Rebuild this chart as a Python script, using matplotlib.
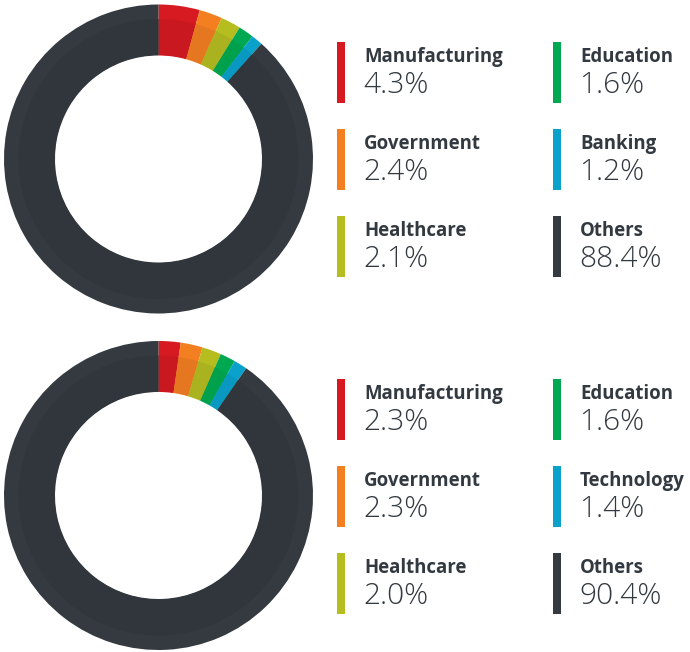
import matplotlib.pyplot as plt
from matplotlib.patches import Rectangle

# chart data
top_labels = ['Manufacturing', 'Government', 'Healthcare', 'Education', 'Banking', 'Others']
top_values = [4.3, 2.4, 2.1, 1.6, 1.2, 88.4]
bottom_labels = ['Manufacturing', 'Government', 'Healthcare', 'Education', 'Technology', 'Others']
bottom_values = [2.3, 2.3, 2.0, 1.6, 1.4, 90.4]

colors_outer = ['#d71a21', '#f47f20', '#b5bd1f', '#00a851', '#0aa2cb', '#343a40']
colors_inner = ['#c9181f', '#e4771f', '#abb21f', '#00a04c', '#0898c1', '#31363c']
text_color = '#333940'

W, H = 690, 652
fig = plt.figure(figsize=(W / 100, H / 100), dpi=100)
ax = fig.add_axes([0, 0, 1, 1])


def draw_donut(ax, values, cy):
    center = (158.5, cy)
    r_out, r_band, r_in = 154.5, 140, 103.5
    # full ring in the lighter shade, then the darker inner part on top
    ax.pie(values, colors=colors_outer, center=center, radius=r_out, startangle=-90,
           counterclock=True,
           wedgeprops=dict(width=r_out - r_in, edgecolor='none', linewidth=0))
    ax.pie(values, colors=colors_inner, center=center, radius=r_band, startangle=-90,
           counterclock=True,
           wedgeprops=dict(width=r_band - r_in - 0.5, edgecolor='none', linewidth=0))


def draw_legend(ax, labels, values, top):
    col_x = [337, 553]
    row_step = 86.8
    for i, (lab, val) in enumerate(zip(labels, values)):
        col, row = divmod(i, 3)
        x = col_x[col]
        y = top + row * row_step
        ax.add_patch(Rectangle((x, y), 7.5, 61, color=colors_outer[i], lw=0))
        ax.text(x + 27, y + 20, lab, fontsize=13.4, fontweight='bold',
                family=['Open Sans', 'DejaVu Sans'], color=text_color, va='baseline')
        ax.text(x + 26, y + 51, f'{val:.1f}%', fontsize=21.5, fontweight='light',
                family=['Open Sans', 'DejaVu Sans'], color=text_color, va='baseline')


draw_donut(ax, top_values, 159)
draw_donut(ax, bottom_values, 495.5)
draw_legend(ax, top_labels, top_values, 42)
draw_legend(ax, bottom_labels, bottom_values, 379)

ax.set_xlim(0, W)
ax.set_ylim(H, 0)
ax.set_aspect('equal')
ax.axis('off')

fig.savefig('out.png', dpi=100, facecolor='white')
